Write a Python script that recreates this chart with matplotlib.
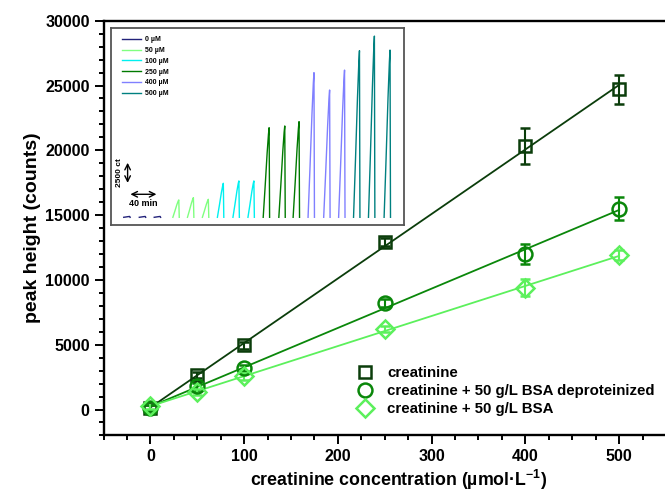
import numpy as np
import matplotlib
matplotlib.use('Agg')
import matplotlib.pyplot as plt
from matplotlib.lines import Line2D
from matplotlib.ticker import MultipleLocator

plt.rcParams['font.family'] = ['Liberation Sans', 'DejaVu Sans']
plt.rcParams['font.weight'] = 'bold'
plt.rcParams['mathtext.fontset'] = 'custom'
plt.rcParams['mathtext.rm'] = 'Liberation Sans:bold'
plt.rcParams['mathtext.bf'] = 'Liberation Sans:bold'
plt.rcParams['mathtext.it'] = 'Liberation Sans:bold'

# main data
conc = np.array([0, 50, 100, 250, 400, 500])
creat = np.array([100, 2650, 4950, 12900, 20350, 24700])
creat_err = np.array([250, 250, 250, 300, 1400, 1100])
deprot = np.array([120, 1780, 3200, 8200, 12000, 15500])
deprot_err = np.array([250, 300, 250, 300, 800, 900])
bsa = np.array([300, 1350, 2550, 6200, 9400, 11900])
bsa_err = np.array([250, 250, 250, 250, 650, 400])

labels = ['creatinine', 'creatinine + 50 g/L BSA deproteinized', 'creatinine + 50 g/L BSA']
colors = ['#0b3d0b', '#0a870a', '#5cf05c']
markers = ['s', 'o', 'D']

# inset data: peak top times (min) and heights (counts)
inset_labels = ['0 µM', '50 µM', '100 µM', '250 µM', '400 µM', '500 µM']
inset_colors = ['#22227a', '#80ff80', '#00f0f0', '#007a00', '#8080ff', '#008080']
peak_times = [[23.6, 43.3, 62.2], [85.8, 104.3, 123.2], [142.2, 161.9, 180.9],
              [200.2, 220.0, 238.1], [257.0, 276.8, 295.7], [314.6, 333.5, 353.3]]
peak_heights = [[80, 80, 80], [1690, 1910, 1750], [3310, 3540, 3540],
                [8720, 8890, 9310], [14080, 12390, 14330], [16220, 17640, 16280]]
# shape of one peak: (time offset, fraction of height)
shape_dt = [-7.5, -5.0, -2.5, -0.8, 0.0, 0.6]
shape_fr = [0.0, 0.35, 0.72, 0.93, 1.0, 0.0]

fig = plt.figure(figsize=(6.65, 4.92), dpi=100)
ax = fig.add_axes([0.1558, 0.1150, 0.8456, 0.8429])

all_y = [creat, deprot, bsa]
all_err = [creat_err, deprot_err, bsa_err]
msizes = [8.5, 10, 9]
for y, err, c, m, ms in zip(all_y, all_err, colors, markers, msizes):
    k, b = np.polyfit(conc, y, 1)
    xx = np.array([0, 500])
    ax.plot(xx, k * xx + b, color=c, lw=1.3, zorder=2)
    ax.errorbar(conc, y, yerr=err, fmt=m, ms=ms, mfc='none', mec=c, mew=1.8,
                ecolor=c, elinewidth=1.5, capsize=3.5, capthick=1.5, zorder=3)

handles = [Line2D([], [], ls='none', marker=m, ms=ms, mfc='none', mec=c, mew=1.8)
           for m, c, ms in zip(markers, colors, msizes)]
ax.legend(handles, labels, loc='center left', bbox_to_anchor=(0.446, 0.107),
          frameon=False, fontsize=10.8, handlelength=1.0, handletextpad=1.0,
          labelspacing=0.25, borderpad=0.2, borderaxespad=0)

ax.set_xlim(-50, 550)
ax.set_ylim(-2000, 30000)
ax.xaxis.set_major_locator(MultipleLocator(100))
ax.xaxis.set_minor_locator(MultipleLocator(25))
ax.yaxis.set_major_locator(MultipleLocator(5000))
ax.yaxis.set_minor_locator(MultipleLocator(1000))
ax.tick_params(which='major', direction='out', length=6.5, width=1.4, labelsize=11.5)
ax.tick_params(which='minor', direction='out', length=3.5, width=1.4)
ax.tick_params(top=False, right=False)
for s in ['left', 'bottom', 'top']:
    ax.spines[s].set_linewidth(1.7)
ax.spines['right'].set_visible(False)
ax.set_xlabel(r'creatinine concentration (µmol·L$^{-1}$)', fontsize=12.8, fontweight='bold')
ax.xaxis.set_label_coords(0.524, -0.0785)
ax.set_ylabel('peak height (counts)', fontsize=14, fontweight='bold', labelpad=3)

# inset
ins = ax.inset_axes([0.0132, 0.5074, 0.521, 0.4743])
for lab, c, ts, hs in zip(inset_labels, inset_colors, peak_times, peak_heights):
    first = True
    for t, h in zip(ts, hs):
        px = [t + d for d in shape_dt]
        py = [h * f for f in shape_fr]
        ins.plot(px, py, color=c, lw=1.0, label=lab if first else None)
        first = False
ins.set_xlim(0, 371)
ins.set_ylim(-750, 18400)
ins.set_xticks([])
ins.set_yticks([])
for s in ins.spines.values():
    s.set_color('#555555')
    s.set_linewidth(1.3)
ins.legend(loc='upper left', bbox_to_anchor=(0.02, 0.985), frameon=False, fontsize=5,
           handlelength=2.8, handletextpad=0.5, labelspacing=0.55, borderpad=0.2)
ins.annotate('', xy=(21, 3080), xytext=(21, 5580),
             arrowprops=dict(arrowstyle='<->', color='black', lw=1.0))
ins.text(11, 4330, '2500 ct', rotation=90, ha='center', va='center', fontsize=6)
ins.annotate('', xy=(21, 2240), xytext=(61, 2240),
             arrowprops=dict(arrowstyle='<->', color='black', lw=1.0))
ins.text(41, 1330, '40 min', ha='center', va='center', fontsize=6.5)

fig.savefig('out.png', dpi=100)
